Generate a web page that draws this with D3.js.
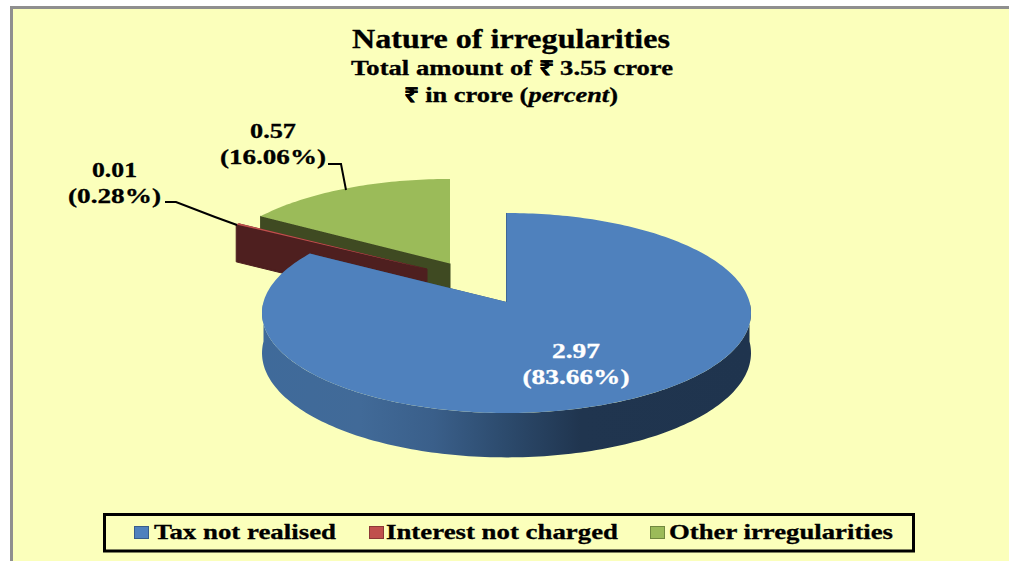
<!DOCTYPE html>
<html>
<head>
<meta charset="utf-8">
<script src="https://cdn.jsdelivr.net/npm/d3@7"></script>
<style>
html, body { margin: 0; padding: 0; background: #fff; }
svg { display: block; }
text { font-family: "Liberation Serif", serif; font-weight: bold; fill: #000; stroke: currentColor; stroke-width: 0.3; }
</style>
</head>
<body>
<svg width="1009" height="561"></svg>
<script>
const categories = ['Tax not realised', 'Interest not charged', 'Other irregularities'];
const amounts = [2.97, 0.01, 0.57];
const percents = ['83.66%', '0.28%', '16.06%'];
const topColors = ['#4f81bd', '#c0504d', '#9bbb59'];
const wallColors = ['#2f4d71', '#4e1f1f', '#3f4a22'];

const svg = d3.select('svg');
const width = +svg.attr('width');
const height = +svg.attr('height');

// slices are pulled apart, each one has its own apex and shrink on screen
const apexes = [[506.5, 302], [427, 269], [450, 263.5]];
const shrink = [[1, 1], [0.97, 0.92], [0.975, 0.95]];
const persp = -0.11;
const radiusX = 243;
const radiusY = 98.8;
const depth = 39.5;

const project = (s, angle, r, h = 0) => {
    const u = Math.sin(angle) * r;
    const v = -Math.cos(angle) * r;
    const k = 1 + persp * v;
    return [
        s.apex[0] + s.shrink[0] * radiusX * u / k,
        s.apex[1] + (s.shrink[1] * radiusY * v + depth * h) / k
    ];
};

const arcAngles = (a0, a1) => {
    const n = Math.max(2, Math.ceil((a1 - a0) / 0.02));
    return d3.range(n + 1).map(i => a0 + (a1 - a0) * i / n);
};

const line = d3.line();

// text squeezed or stretched to the width it has in the picture
const fitText = (parent, str, x, y, size, len) => parent.append('text')
    .attr('x', x).attr('y', y).attr('font-size', size)
    .attr('textLength', len).attr('lengthAdjust', 'spacingAndGlyphs')
    .text(str);

// frame
svg.append('rect').attr('x', 10).attr('y', 6).attr('width', width).attr('height', height)
    .attr('fill', '#8f8f8f');
svg.append('rect').attr('x', 13).attr('y', 9).attr('width', width).attr('height', height)
    .attr('fill', '#fbffbb');

// title
const title = svg.append('g').attr('text-anchor', 'middle');
fitText(title, 'Nature of irregularities', 511, 48, 28, 318);
fitText(title, 'Total amount of ₹ 3.55 crore', 512, 75, 20, 322);
const sub = fitText(title, '', 511, 102, 20, 214);
sub.append('tspan').text('₹ in crore (');
sub.append('tspan').attr('font-style', 'italic').text('percent');
sub.append('tspan').text(')');

// side gradient of the blue slice
const defs = svg.append('defs');
const grad = defs.append('linearGradient').attr('id', 'blueSide')
    .attr('gradientUnits', 'userSpaceOnUse')
    .attr('x1', 262).attr('x2', 752).attr('y1', 0).attr('y2', 0);
[[0, '#3f6a9a'], [0.2, '#416a98'], [0.35, '#3a5f8a'], [0.5, '#2c4a6c'], [0.65, '#20354f'], [1, '#1f344e']]
    .forEach(s => grad.append('stop').attr('offset', s[0]).attr('stop-color', s[1]));

const pie = d3.pie().sort(null).startAngle(0).endAngle(2 * Math.PI);
const slices = pie(amounts).map((d, i) => ({ ...d, i, apex: apexes[i], shrink: shrink[i] }));

const wall = (s, angles) => {
    const top = angles.map(a => project(s, a, 1));
    const bottom = angles.map(a => project(s, a, 1, 1)).reverse();
    return line(top.concat(bottom)) + 'Z';
};

const radialWall = (s, a) => line([
    s.apex, project(s, a, 1), project(s, a, 1, 1), project(s, a, 0, 1)
]) + 'Z';

// far slices first, then the big one over them
[2, 1, 0].forEach(i => {
    const s = slices[i];
    const g = svg.append('g').attr('class', 'slice');
    g.append('path').attr('d', radialWall(s, s.startAngle))
        .attr('fill', wallColors[i]).attr('stroke', wallColors[i]);
    g.append('path').attr('d', radialWall(s, s.endAngle)).attr('fill', wallColors[i]);
    if (s.startAngle < Math.PI * 1.5) {
        const front = arcAngles(Math.max(s.startAngle, Math.PI / 2), Math.min(s.endAngle, Math.PI * 1.5));
        g.append('path').attr('d', wall(s, front)).attr('fill', i === 0 ? 'url(#blueSide)' : wallColors[i]);
    }
    const rim = arcAngles(s.startAngle, s.endAngle).map(a => project(s, a, 1));
    g.append('path').attr('d', line([s.apex].concat(rim)) + 'Z').attr('fill', topColors[i]);
});

// data labels
const labelPos = [[576, 358, '#fff'], [114.5, 177, '#000'], [273, 138, '#000']];
const labelWidths = [[48, 107], [45, 93], [46, 106]];
const labels = svg.append('g').attr('text-anchor', 'middle');
amounts.forEach((v, i) => {
    const p = labelPos[i];
    const g = labels.append('g').style('fill', p[2]).style('color', p[2]);
    fitText(g, d3.format('.2f')(v), p[0], p[1], 21, labelWidths[i][0]).style('fill', p[2]);
    fitText(g, `(${percents[i]})`, p[0], p[1] + 25.5, 21, labelWidths[i][1]).style('fill', p[2]);
});

// leader lines
const leaders = [
    [[165, 202], [176, 202], [215, 217], [237, 225]],
    [[328, 164], [341, 164], [346, 190]]
];
svg.selectAll('path.leader').data(leaders).enter().append('path')
    .attr('class', 'leader')
    .attr('d', d => line(d))
    .attr('fill', 'none').attr('stroke', '#000').attr('stroke-width', 2);

// legend
svg.append('rect').attr('x', 104.5).attr('y', 514.5).attr('width', 809).attr('height', 36.5)
    .attr('fill', 'none').attr('stroke', '#000').attr('stroke-width', 3);
const legendX = [134, 369, 650];
const legendTextX = [154, 386, 669];
const legendWidths = [182, 232, 224];
const legendEdge = ['#385d8a', '#8c3836', '#71893f'];
const legend = svg.append('g').attr('class', 'legend');
categories.forEach((d, i) => {
    legend.append('rect').attr('x', legendX[i] + 0.5).attr('y', 526.5).attr('width', 14).attr('height', 12)
        .attr('fill', topColors[i]).attr('stroke', legendEdge[i]);
    fitText(legend, d, legendTextX[i], 538.5, 21, legendWidths[i]);
});
</script>
</body>
</html>
